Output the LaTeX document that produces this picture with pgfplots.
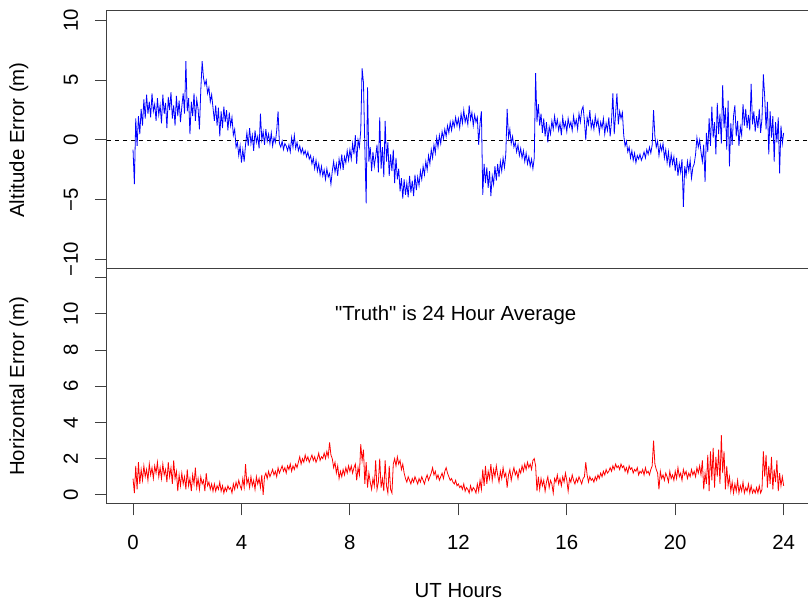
\documentclass[border=0pt]{standalone}
\usepackage{pgfplots}
\pgfplotsset{compat=1.18}
\usepackage{fontspec}
\setmainfont{Liberation Sans}
\newfontfamily\rfont{Liberation Sans}
\usepackage{pgfplotstable}

\pgfplotstableread{
v
-0.8
-3.7
1.8
-0.5
2.0
0.5
2.6
1.2
3.4
1.8
3.8
2.2
3.2
1.9
3.9
2.4
3.0
1.6
3.5
2.1
2.9
1.4
3.8
2.2
3.1
1.0
3.6
2.5
4.0
1.8
2.9
1.2
3.7
2.0
3.3
1.5
2.8
3.9
2.2
6.6
2.4
3.5
0.5
3.2
2.0
3.9
1.6
3.4
2.6
0.9
4.2
6.6
5.2
4.6
5.0
3.9
4.4
3.2
3.8
2.7
1.6
2.9
1.2
2.7
0.3
2.4
1.0
2.8
1.5
2.5
0.8
2.3
1.2
1.9
0.4
0.9
-0.6
-0.2
-1.3
-0.5
-1.9
-0.8
-1.8
-0.4
0.6
-0.5
1.0
-0.3
0.4
-0.9
0.8
-0.2
0.3
-0.7
2.2
0.0
0.7
-0.4
0.9
-0.1
0.5
-0.3
0.6
-0.5
0.2
-0.2
0.8
2.4
-0.3
-0.6
-0.1
-0.8
-0.3
-0.5
-0.9
-0.4
-1.0
0.2
-0.6
0.4
-0.7
-0.2
-0.9
-0.5
-1.1
-0.7
-1.2
-0.9
-1.4
-1.0
-1.6
-1.3
-2.0
-1.5
-2.4
-1.7
-2.6
-2.0
-2.9
-2.2
-3.0
-2.5
-3.3
-2.4
-3.1
-2.8
-3.7
-2.6
-1.8
-2.7
-2.0
-3.0
-1.6
-2.3
-1.2
-2.5
-1.4
-1.9
-0.9
-1.7
-0.8
-1.6
-0.3
-1.2
0.4
-2.0
0.0
-0.6
0.8
6.0
4.8
-0.5
-5.3
4.4
-1.8
-0.6
-2.6
-1.0
-2.2
-1.4
-0.4
-2.7
1.9
-2.4
-0.6
-3.1
1.6
-1.8
-0.2
-3.0
-1.2
-2.6
-0.8
-3.6
-1.5
-3.3
-2.4
-4.3
-3.2
-4.9
-3.3
-4.6
-3.6
-4.8
-3.0
-4.4
-3.4
-4.7
-2.9
-4.2
-3.1
-3.8
-2.6
-3.3
-2.2
-2.9
-1.8
-2.5
-1.3
-2.0
-0.8
-1.5
-0.4
-1.1
0.2
-0.6
0.4
-0.3
0.7
0.1
0.9
0.3
1.2
0.6
1.5
0.8
1.6
1.1
1.9
1.2
1.8
1.0
2.2
1.4
2.5
1.5
2.0
1.3
2.9
1.7
2.3
1.2
2.1
1.5
1.9
-0.4
1.4
2.4
-4.6
-2.0
-3.6
-2.3
-4.0
-2.6
-4.7
-3.0
-3.7
-2.2
-3.4
-2.0
-3.1
-1.8
-2.6
-1.5
-2.3
-1.2
2.6
0.2
0.9
-0.3
0.3
-0.6
-0.2
-1.0
-0.4
-1.3
-0.7
-1.5
-0.9
-1.8
-1.1
-2.0
-1.4
-2.2
-1.6
-2.4
-1.5
5.6
1.5
3.0
1.2
2.2
0.6
1.8
0.3
1.5
-0.2
1.1
0.5
1.6
0.9
2.0
1.1
1.7
0.8
1.4
0.4
1.9
1.0
1.5
0.7
1.8
1.1
1.5
0.8
2.0
1.2
1.7
0.9
2.2
1.5
2.5
2.8
1.6
0.0
1.9
1.3
2.5
1.0
1.6
0.9
2.0
1.2
1.7
0.6
1.5
1.0
1.8
0.5
1.4
0.8
1.9
0.3
1.6
3.9
0.5
2.2
3.9
1.3
2.4
1.8
2.3
0.4
-0.5
-0.1
-1.0
-0.6
-1.5
-0.9
-1.7
-1.1
-1.9
-1.3
-1.6
-1.2
-1.7
-1.4
-1.0
-1.5
-0.8
-1.2
-0.6
-1.1
-0.4
2.5
0.3
-0.6
-0.1
-1.3
-0.4
-0.9
-0.3
-1.5
-0.8
-1.9
-1.0
-2.3
-1.2
-2.0
-1.4
-2.6
-1.5
-3.0
-2.0
-2.7
-1.6
-5.6
-2.2
-3.0
-1.8
-2.6
-1.7
-3.2
-2.3
-2.0
-1.2
0.2
-0.6
0.0
-1.0
-1.8
-0.4
-3.5
0.6
-1.0
1.8
-0.5
2.8
0.2
1.5
-1.2
3.1
0.5
2.2
-0.3
4.6
1.0
2.7
-0.8
3.3
-2.2
1.4
-0.4
2.0
2.9
0.3
1.6
-0.5
1.1
0.4
3.0
1.2
2.6
1.0
2.1
0.8
4.7
1.3
2.4
0.7
2.0
1.0
2.6
0.6
1.8
5.5
3.6
0.9
3.2
-1.2
2.4
0.2
2.0
-1.8
1.5
-0.2
1.9
-2.8
1.2
-0.3
0.6
}\altdata

\pgfplotstableread{
v
0.9
0.1
1.6
0.3
1.8
0.6
1.4
0.8
1.6
1.0
1.4
0.8
1.7
1.1
1.5
0.9
1.6
1.2
1.8
1.0
1.5
0.9
1.7
1.1
1.4
0.7
1.8
1.0
1.5
0.6
1.9
0.9
1.3
0.2
1.1
0.5
1.2
0.6
1.0
0.3
1.4
0.5
0.9
0.2
1.1
0.6
1.5
0.4
0.9
0.3
1.0
0.6
0.8
0.2
1.2
0.5
0.7
0.3
0.6
0.2
0.6
0.2
0.5
0.3
0.7
0.2
0.5
0.1
0.4
0.2
0.5
0.3
0.4
0.1
0.6
0.3
0.7
0.4
0.8
0.5
0.3
0.9
0.4
1.7
0.6
0.9
0.4
1.0
0.5
0.8
0.3
1.0
0.6
0.9
0.4
1.1
0.0
1.0
1.2
0.9
1.3
1.0
1.2
1.4
1.1
1.3
1.0
1.5
1.2
1.4
1.6
1.3
1.5
1.2
1.6
1.4
1.7
1.3
1.6
1.4
1.7
1.5
1.8
2.1
1.7
2.0
1.8
2.2
1.9
2.1
1.8
2.0
2.2
1.9
2.1
1.8
2.0
2.3
1.9
2.1
2.0
2.3
2.0
2.4
2.1
2.9
2.2
2.0
1.5
1.8
1.2
1.6
0.9
1.3
1.0
1.4
1.1
1.5
1.2
1.6
1.3
1.6
1.2
1.5
1.7
0.8
1.5
1.1
2.8
1.9
2.5
0.6
1.8
0.4
1.2
0.7
0.3
0.9
0.5
1.9
0.3
0.7
2.0
0.4
0.9
0.2
1.9
0.5
0.1
1.6
0.3
0.1
1.7
2.0
1.6
2.1
1.7
1.9
1.4
1.7
1.2
0.9
0.7
1.0
0.8
0.6
0.9
0.7
1.0
0.8
0.6
0.9
0.7
1.0
0.8
0.6
0.9
1.1
0.8
1.0
1.2
1.5
1.1
1.3
0.9
1.1
0.8
1.0
1.2
0.9
1.3
1.5
1.2
1.0
0.8
0.9
0.7
0.6
0.8
0.5
0.6
0.4
0.5
0.3
0.6
0.2
0.4
0.3
0.1
0.5
0.2
0.4
0.3
0.1
0.6
0.2
0.8
0.3
1.4
0.5
1.6
0.6
1.3
0.9
1.7
0.8
1.4
1.0
1.6
1.1
0.7
1.3
0.9
1.5
1.0
1.2
0.4
1.1
1.4
0.8
1.2
1.5
1.1
1.3
0.9
1.4
1.2
1.6
1.3
1.7
1.4
1.8
1.5
1.7
1.4
1.9
2.0
1.6
0.2
1.0
0.3
0.9
0.5
0.8
0.2
0.7
1.0
0.4
0.8
0.6
0.1
0.9
0.7
1.1
0.6
0.9
0.5
1.0
0.7
1.2
0.8
0.2
0.9
0.7
1.1
0.8
0.6
0.9
0.7
1.0
0.8
0.6
0.9
1.0
1.8
1.1
0.7
1.0
0.8
0.9
0.7
1.0
0.8
1.1
0.9
1.2
1.0
1.3
1.1
1.4
1.2
1.3
1.5
1.3
1.6
1.4
1.7
1.5
1.6
1.4
1.7
1.5
1.6
1.3
1.5
1.2
1.6
1.4
1.5
1.2
1.4
1.3
1.5
1.1
1.3
1.2
1.4
1.1
1.5
1.2
1.3
1.1
1.4
1.6
3.0
1.7
1.4
1.2
0.3
1.3
0.9
1.1
0.8
1.2
1.0
0.7
1.3
0.9
1.1
0.8
1.3
0.9
1.5
1.0
1.2
0.8
1.4
1.1
1.3
0.9
1.2
1.0
1.4
1.1
1.3
1.0
1.5
1.2
1.6
1.1
1.9
0.3
1.2
0.6
2.2
0.2
2.4
0.8
2.6
0.4
2.1
1.0
2.5
0.6
3.3
1.2
2.4
0.3
1.6
0.5
1.0
0.2
0.7
0.1
0.6
0.2
0.8
0.1
0.5
0.2
0.7
0.1
0.4
0.2
0.6
0.1
0.5
0.1
0.3
0.1
0.4
0.1
0.5
0.1
0.3
2.4
1.0
2.2
0.4
1.6
0.6
2.1
0.3
1.4
0.7
1.9
0.2
1.2
0.5
1.0
0.5
}\hordata

\pgfplotsset{
  rbase/.style={
    scale only axis,
    width=702.7pt,
    xmin=-0.96, xmax=24.96,
    axis line style={draw=black!75, line width=1pt},
    every tick/.style={draw=black!75, line width=1pt},
    tick align=outside,
    major tick length=12pt,
    ytick pos=left,
    xtick pos=bottom,
    tick label style={font=\fontsize{20.4}{24}\selectfont},
    /pgf/number format/assume math mode=true,
    yticklabel style={rotate=90, anchor=base, inner sep=0pt},
    xticklabel style={anchor=north, inner sep=0pt},
    yticklabel shift=17pt,
    xticklabel shift=19.5pt,
    every axis y label/.style={at={(axis description cs:-0.1181,0.5)}, rotate=90, anchor=base, font=\fontsize{20.4}{24}\selectfont},
  }
}

\begin{document}
\begin{tikzpicture}
% bottom panel: horizontal error
\begin{axis}[rbase,
  at={(0pt,0pt)}, anchor=south west,
  height=234.5pt,
  ymin=-0.48, ymax=12.48,
  ytick={0,2,4,6,8,10,12},
  yticklabels={0,2,4,6,8,10,},
  xtick={0,4,8,12,16,20,24},
  xticklabels={0,4,8,12,16,20,24},
  ylabel={Horizontal Error (m)},
  xlabel={UT Hours},
  every axis x label/.style={at={(axis description cs:0.5,-0.401)}, anchor=base, inner sep=0pt, font=\fontsize{20.4}{24}\selectfont},
]
\addplot[red, line width=0.8pt, mark=none] table[x expr=\coordindex*0.05, y=v] {\hordata};
\node[font=\rfont\fontsize{20.4}{24}\selectfont, anchor=base] at (axis cs:11.9,9.66) {"Truth" is 24 Hour Average};
\end{axis}
% top panel: altitude error
\begin{axis}[rbase,
  at={(0pt,234.5pt)}, anchor=south west,
  height=258pt,
  ymin=-10.8, ymax=10.8,
  ytick={-10,-5,0,5,10},
  yticklabels={−10,−5,0,5,10},
  xtick=\empty,
  ylabel={Altitude Error (m)},
]
\addplot[black, line width=0.8pt, dash pattern=on 4pt off 4pt, mark=none] coordinates {(-0.96,0) (24.96,0)};
\addplot[blue, line width=0.8pt, mark=none] table[x expr=\coordindex*0.05, y=v] {\altdata};
\end{axis}
\pgfresetboundingbox
\path[use as bounding box] (-107pt,-97.5pt) rectangle (701pt,503.5pt);
\end{tikzpicture}
\end{document}
